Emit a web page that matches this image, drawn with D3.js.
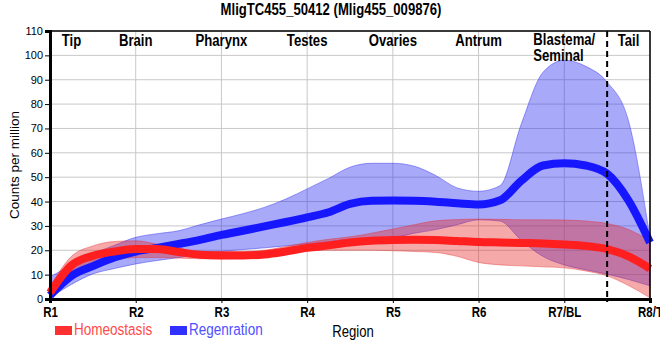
<!DOCTYPE html>
<html><head><meta charset="utf-8">
<script src="https://cdn.jsdelivr.net/npm/d3@7"></script>
<style>
body{margin:0;background:#fff;}
svg{display:block;}
text{font-family:'Liberation Sans',Arial,sans-serif;}
</style></head>
<body>
<svg id="c" width="660" height="360"></svg>
<script>
const title = "MligTC455_50412 (Mlig455_009876)";
const regions = ["R1","R2","R3","R4","R5","R6","R7/BL","R8/T"];
const yTicks = [0,10,20,30,40,50,60,70,80,90,100,110];
const tissues = ["Tip","Brain","Pharynx","Testes","Ovaries","Antrum","Blastema/|Seminal","Tail"];
const tissuePos = [0.25,1,2,3,4,5,6,6.75];
const boundaryPos = 6.5;
// sample positions along the body (0 = R1 ... 7 = R8/T)
const pos = [0,0.25,0.5,0.75,1,1.25,1.5,1.75,2,2.25,2.5,2.75,3,3.25,3.5,3.75,4,4.25,4.5,4.75,5,5.25,5.5,5.75,6,6.25,6.5,6.75,7];
const homMean  = [2.6,13.8,17.7,19.5,20.5,20.5,19.3,18.2,17.9,17.9,18.3,19.5,21,22,23.2,23.9,24.2,24.3,24.2,23.8,23.4,23.2,23,22.8,22.4,21.8,20.5,17.5,12.5];
const homUpper = [5,17.5,21.8,23.6,23.9,22.5,20.5,19.5,19.5,19.5,20,21.5,23.2,24.5,25.5,27,28.7,30.5,32.1,32.6,32.8,32.7,32.5,32.5,32.4,32,31,28.5,23.9];
const homLower = [0.5,10.5,14,16,17,17,16.8,16.5,16.5,16.8,17.3,18.5,19.8,20,20,20,19.8,19.5,19.1,17.5,15,14,13.6,13.2,12.8,11.5,9.5,5.5,0.5];
const regMean  = [1.5,9.5,13.5,17,19.5,21,22.6,24.3,26.3,28,29.8,31.6,33.5,35.6,39,40.3,40.4,40.3,39.9,39.3,38.8,40.5,48.6,54.8,55.7,54.8,51.4,40.4,23.2];
const regUpper = [9,14,18.5,22,25.3,26.8,28,30.5,32.8,35,37.6,41,45.2,49.5,54.1,55.7,55.7,54.5,50.7,45.6,44.2,46.5,72,93,98,95.5,89,73,25];
const regLower = [0.5,6,10.3,12.5,14.4,15.8,17,18.3,19.5,20.3,21,21.8,22.6,23.5,24.5,25,25.3,27,28.5,30.5,32.5,32,24,17.5,14,12,10.2,8,5.4];
const seriesNames = ["Homeostasis","Regenration"];

const svg = d3.select("#c");
const L=50,R=650,T=31,B=299;
const NARROW = 0.82;
const x = d3.scaleLinear().domain([0,7]).range([L,R]);
const y = d3.scaleLinear().domain([0,110]).range([B,T]);

function ntext(px, py, str, size, bold, anchor, fill){
  return svg.append("text").attr("transform",`translate(${px},${py}) scale(${NARROW},1)`)
    .attr("font-size",size).attr("font-weight",bold?"bold":"normal")
    .attr("text-anchor",anchor||"start").attr("fill",fill||"#000").text(str);
}

// grid
const g = svg.append("g");
g.selectAll(".hg").data(yTicks).enter().append("line")
  .attr("x1",L).attr("x2",R).attr("y1",d=>y(d)).attr("y2",d=>y(d))
  .attr("stroke","#c8c8c8").attr("stroke-width",1);
g.selectAll(".vg").data(regions).enter().append("line")
  .attr("x1",(d,i)=>x(i)).attr("x2",(d,i)=>x(i)).attr("y1",T).attr("y2",B)
  .attr("stroke","#c8c8c8").attr("stroke-width",1);

const data = pos.map((p,i)=>({p, hm:homMean[i], hu:homUpper[i], hl:homLower[i], rm:regMean[i], ru:regUpper[i], rl:regLower[i]}));
const curve = d3.curveMonotoneX;
const areaR = d3.area().curve(curve).x(d=>x(d.p)).y0(d=>y(d.rl)).y1(d=>y(d.ru));
const areaH = d3.area().curve(curve).x(d=>x(d.p)).y0(d=>y(d.hl)).y1(d=>y(d.hu));
const lineR = d3.line().curve(curve).x(d=>x(d.p)).y(d=>y(d.rm));
const lineH = d3.line().curve(curve).x(d=>x(d.p)).y(d=>y(d.hm));

svg.append("path").attr("d",areaR(data)).attr("fill","rgb(40,40,240)").attr("fill-opacity",0.4)
  .attr("stroke","rgb(60,60,240)").attr("stroke-opacity",0.5).attr("stroke-width",1);
svg.append("path").attr("d",areaH(data)).attr("fill","rgb(230,40,40)").attr("fill-opacity",0.4)
  .attr("stroke","rgb(230,40,40)").attr("stroke-opacity",0.4).attr("stroke-width",1);
svg.append("path").attr("d",lineR(data)).attr("fill","none").attr("stroke","#1717ff").attr("stroke-width",8);
svg.append("path").attr("d",lineH(data)).attr("fill","none").attr("stroke","#ff1f1f").attr("stroke-width",8);

// frame
svg.append("line").attr("x1",L).attr("x2",R).attr("y1",T).attr("y2",T).attr("stroke","#000").attr("stroke-width",1.5);
svg.append("line").attr("x1",R).attr("x2",R).attr("y1",T).attr("y2",B).attr("stroke","#000").attr("stroke-width",1.5);

// dashed boundary
svg.append("line").attr("x1",x(boundaryPos)).attr("x2",x(boundaryPos)).attr("y1",T).attr("y2",B+3)
  .attr("stroke","#000").attr("stroke-width",2).attr("stroke-dasharray","6,4");

// axes
const yAxis = d3.axisLeft(y).tickValues(yTicks).tickSize(5).tickPadding(2);
const ya = svg.append("g").attr("transform",`translate(${L},0)`).call(yAxis);
ya.select(".domain").attr("stroke-width",3);
ya.selectAll("text").attr("font-family","'Liberation Sans',Arial,sans-serif").attr("font-size",11).attr("fill","#000");

const xAxis = d3.axisBottom(x).tickValues(d3.range(regions.length)).tickFormat(i=>regions[i]).tickSize(4).tickPadding(4);
const xa = svg.append("g").attr("transform",`translate(0,${B})`).call(xAxis);
xa.select(".domain").attr("stroke-width",3);
xa.selectAll("text").attr("font-family","'Liberation Sans',Arial,sans-serif").attr("font-size",14)
  .attr("font-weight","bold").attr("fill","#000").attr("transform",`scale(${NARROW},1)`);

// tissue labels
tissues.forEach((t,i)=>{
  const parts = t.split("|");
  if(parts.length===1){
    ntext(x(tissuePos[i]), 46, t, 16, true, "middle");
  } else {
    parts.forEach((p,j)=>ntext(x(tissuePos[i])-31, 45+16*j, p, 16, true, "start"));
  }
});

// title
ntext(331, 15, title, 16, true, "middle");

// y label
svg.append("text").attr("transform","translate(19,165) rotate(-90)").attr("text-anchor","middle")
  .attr("font-size",13.5).text("Counts per million");

// x label
ntext(353, 337, "Region", 16, false, "middle");

// legend
const legRect=["#ff3030","#3030ff"], legText=["#ff4a4a","#4f4fff"], legX=[55,170];
seriesNames.forEach((n,i)=>{
  svg.append("rect").attr("x",legX[i]).attr("y",326).attr("width",17).attr("height",9).attr("fill",legRect[i]);
  ntext(legX[i]+19, 335, n, 16.5, false, "start", legText[i]);
});
</script>
</body></html>
